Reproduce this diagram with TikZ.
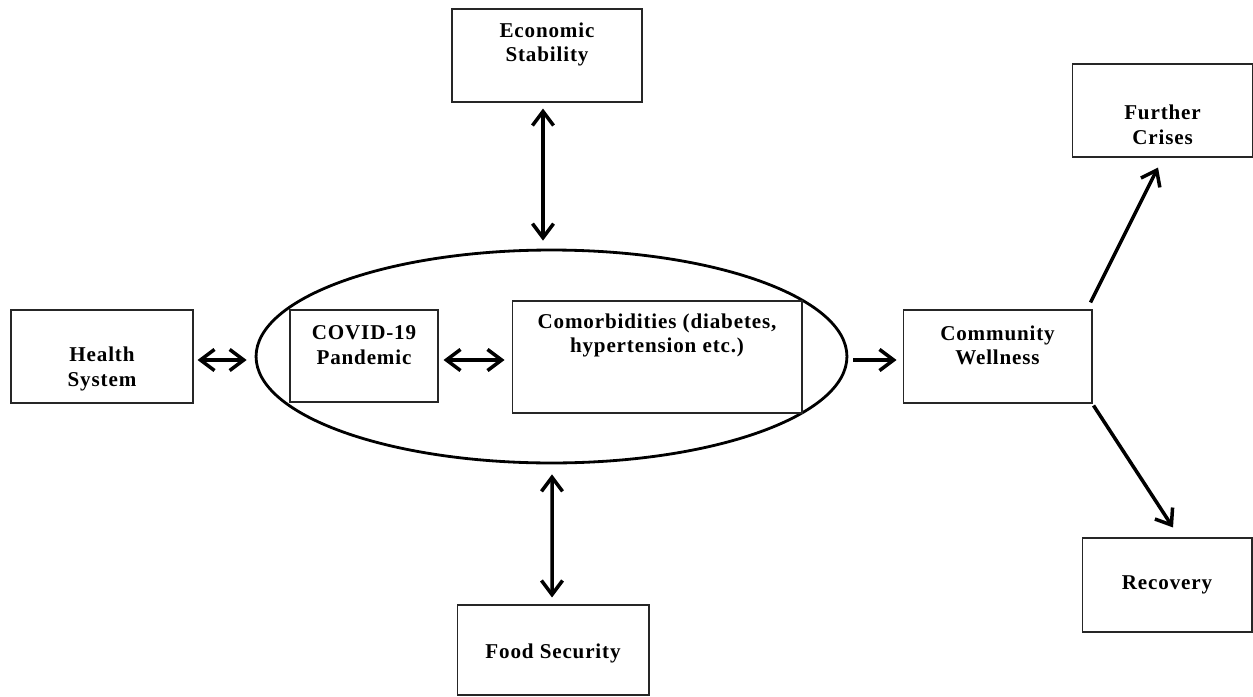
\documentclass[tikz,border=0pt]{standalone}
\usepackage{fontspec}
\setmainfont{Liberation Serif}[LetterSpace=4]
\usetikzlibrary{positioning, shapes.geometric, arrows.meta, calc}

\tikzset{
    box/.style={rectangle, draw=black!85, line width=0.6pt, inner sep=0pt},
    boxtext/.style={font=\fontsize{12}{14}\selectfont\bfseries, align=center, inner sep=0pt},
    link/.style={line width=2pt, -{Straight Barb[length=8pt, width=12pt]}},
    twoway/.style={line width=2pt, {Straight Barb[length=8pt, width=12pt]}-{Straight Barb[length=8pt, width=12pt]}},
}

\begin{document}
\begin{tikzpicture}[x=0.02cm, y=-0.02cm]
    \useasboundingbox (0,0) rectangle (1253,696);

    % the ring round the pandemic and the comorbidities
    \node[ellipse, draw, line width=1.6pt, minimum width=11.82cm, minimum height=4.26cm] (core) at (551.5,356.5) {};
    \node[box, minimum width=2.96cm, minimum height=1.84cm] (covid) at (364,356) {};
    \node[box, minimum width=5.8cm, minimum height=2.24cm] (comorb) at (657,357) {};

    % outer boxes
    \node[box, minimum width=3.64cm, minimum height=1.86cm] (health) at (102,356.5) {};
    \node[box, minimum width=3.8cm, minimum height=1.86cm] (econ) at (547,55.5) {};
    \node[box, minimum width=3.84cm, minimum height=1.8cm] (food) at (553,650) {};
    \node[box, minimum width=3.78cm, minimum height=1.86cm] (community) at (997.5,356.5) {};
    \node[box, minimum width=3.6cm, minimum height=1.86cm] (crises) at (1162.5,110.5) {};
    \node[box, minimum width=3.4cm, minimum height=1.88cm] (recovery) at (1167,585) {};

    % texts
    \node[boxtext] (covidtext) at ($(covid)+(0,-11)$) {COVID-19\\Pandemic};
    \node[boxtext] (comorbtext) at ($(comorb)+(0,-21.5)$) {Comorbidities (diabetes,\\hypertension etc.)};
    \node[boxtext] (healthtext) at ($(health)+(0,12.5)$) {Health\\System};
    \node[boxtext] (econtext) at ($(econ)+(0,-11)$) {Economic\\Stability};
    \node[boxtext] (foodtext) at ($(food)+(0,3)$) {Food Security};
    \node[boxtext] (communitytext) at ($(community)+(0,-11)$) {Community\\Wellness};
    \node[boxtext] (crisestext) at ($(crises)+(0,14)$) {Further\\Crises};
    \node[boxtext] (recoverytext) at (recovery) {Recovery};

    % connectors
    \draw[twoway] ($(health.east)+(4,3.5)$) -- ($(core.west)+(-8,3.5)$);
    \draw[twoway] ($(covid.east)+(5,4)$) -- ($(comorb.west)+(-7,3)$);
    \draw[link] ($(core.east)+(5,3.5)$) -- ($(community.west)+(-6,3.5)$);
    \draw[twoway] ($(econ.south)+(-4,6)$) -- ($(core.north)+(-8.5,-8)$);
    \draw[twoway] ($(core.south)+(0.5,10)$) -- ($(food.north)+(-1,-7)$);
    \draw[link] ($(community.north east)+(-2,-7)$) -- ($(crises.south)+(-4.5,10)$);
    \draw[link] ($(community.south east)+(1,2)$) -- ($(recovery.north)+(6,-10)$);
\end{tikzpicture}
\end{document}
